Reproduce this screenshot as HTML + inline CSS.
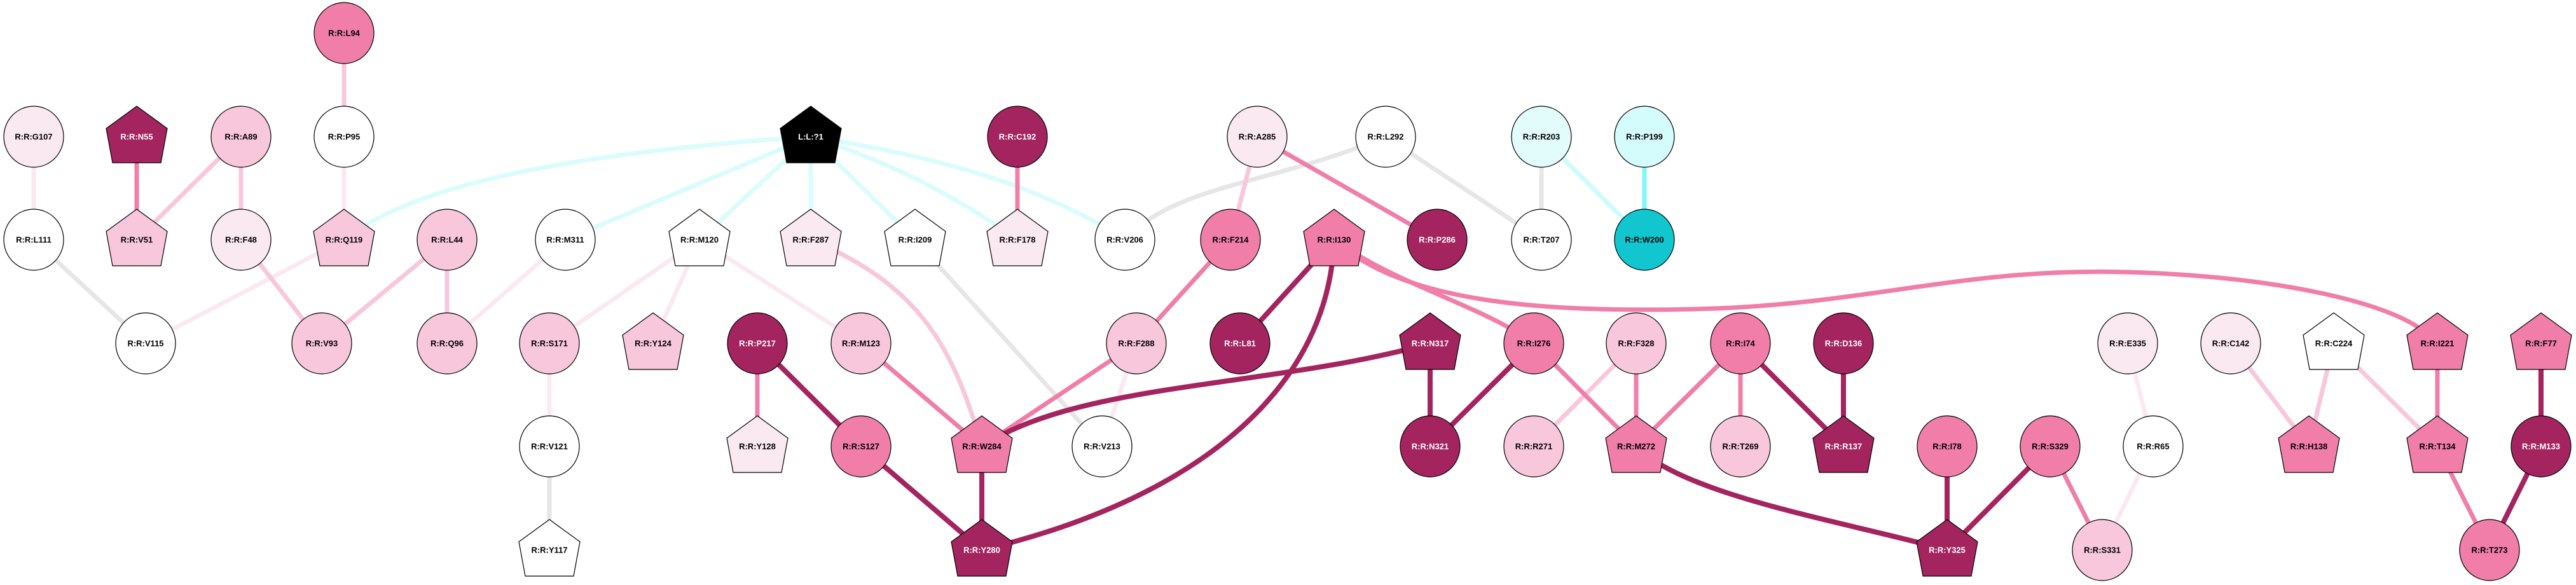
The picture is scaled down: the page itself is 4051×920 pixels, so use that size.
<!DOCTYPE html>
<html><head><meta charset="utf-8"><style>
html,body{margin:0;padding:0;background:#fff;}
svg{display:block}
text{font-family:"Liberation Sans",sans-serif;font-weight:bold;font-size:13px;text-anchor:middle;dominant-baseline:central}
</style></head><body>
<svg width="4051" height="920" viewBox="0 0 4051 920" xmlns="http://www.w3.org/2000/svg">
<g fill="none" stroke-width="7">
<!-- cyan ligand edges -->
<g stroke="#dafcfc">
<path d="M1275,215 C900,240 650,290 541,377"/>
<line x1="1275" y1="215" x2="889" y2="377"/>
<line x1="1275" y1="215" x2="1100" y2="377"/>
<line x1="1275" y1="215" x2="1275" y2="377"/>
<line x1="1275" y1="215" x2="1439" y2="377"/>
<path d="M1275,215 Q1450,270 1600,377"/>
<path d="M1275,215 C1500,250 1650,300 1769,377"/>
</g>
<g stroke="#e6e6e6">
<line x1="53" y1="377" x2="229" y2="540"/>
<line x1="864" y1="702" x2="864" y2="865"/>
<line x1="1439" y1="377" x2="1733" y2="702"/>
<path d="M2179,215 C2000,290 1850,290 1769,377"/>
<line x1="2179" y1="215" x2="2424" y2="377"/>
<line x1="2424" y1="215" x2="2424" y2="377"/>
</g>
<line x1="2424" y1="215" x2="2586" y2="377" stroke="#ccfcfc"/>
<line x1="2586" y1="215" x2="2586" y2="377" stroke="#80f8f8"/>
<g stroke="#fbe9f1">
<line x1="541" y1="215" x2="541" y2="377"/>
<line x1="53" y1="215" x2="53" y2="377"/>
<line x1="541" y1="377" x2="229" y2="540"/>
<line x1="889" y1="377" x2="703" y2="540"/>
<line x1="1100" y1="377" x2="864" y2="540"/>
<line x1="1100" y1="377" x2="1027" y2="540"/>
<line x1="1100" y1="377" x2="1354" y2="540"/>
<line x1="864" y1="540" x2="864" y2="702"/>
<line x1="1787" y1="540" x2="1733" y2="702"/>
<line x1="3346" y1="540" x2="3386" y2="702"/>
<line x1="3386" y1="702" x2="3306" y2="865"/>
</g>
<g stroke="#f8c7dc">
<line x1="541" y1="52" x2="541" y2="215"/>
<line x1="379" y1="215" x2="215" y2="377"/>
<line x1="379" y1="215" x2="379" y2="377"/>
<line x1="379" y1="377" x2="506" y2="540"/>
<line x1="703" y1="377" x2="506" y2="540"/>
<line x1="703" y1="377" x2="703" y2="540"/>
<path d="M1275,377 C1450,450 1500,550 1544,702"/>
<line x1="1977" y1="215" x2="1935" y2="377"/>
<line x1="2573" y1="540" x2="2412" y2="702"/>
<line x1="3508" y1="540" x2="3631" y2="702"/>
<line x1="3670" y1="540" x2="3631" y2="702"/>
<line x1="3670" y1="540" x2="3833" y2="702"/>
</g>
<g stroke="#f07ea9">
<line x1="215" y1="215" x2="215" y2="377"/>
<line x1="1191" y1="540" x2="1191" y2="702"/>
<line x1="1354" y1="540" x2="1544" y2="702"/>
<line x1="1787" y1="540" x2="1544" y2="702"/>
<line x1="1935" y1="377" x2="1787" y2="540"/>
<line x1="1977" y1="215" x2="2260" y2="377"/>
<line x1="1600" y1="215" x2="1600" y2="377"/>
<path d="M2098,377 C2200,450 2330,480 2412,540"/>
<path d="M2098,377 C2200,470 2400,495 2700,485 C2950,475 3100,420 3350,428 C3600,436 3760,480 3810,520"/>
<line x1="2412" y1="540" x2="2573" y2="702"/>
<line x1="2573" y1="540" x2="2573" y2="702"/>
<line x1="2737" y1="540" x2="2573" y2="702"/>
<line x1="2737" y1="540" x2="2737" y2="702"/>
<line x1="3224" y1="702" x2="3306" y2="865"/>
<line x1="3833" y1="540" x2="3833" y2="702"/>
<line x1="3833" y1="702" x2="3915" y2="865"/>
</g>
<g stroke="#a3245f" stroke-width="8">
<line x1="1191" y1="540" x2="1354" y2="702"/>
<line x1="1354" y1="702" x2="1544" y2="865"/>
<line x1="1544" y1="702" x2="1544" y2="865"/>
<line x1="2098" y1="377" x2="1950" y2="540"/>
<path d="M2098,377 C2090,600 1900,780 1544,865"/>
<path d="M2249,540 C2000,610 1700,600 1544,702"/>
<line x1="2249" y1="540" x2="2249" y2="702"/>
<line x1="2412" y1="540" x2="2249" y2="702"/>
<path d="M2573,702 C2650,780 2900,820 3062,865"/>
<line x1="2737" y1="540" x2="2899" y2="702"/>
<line x1="2899" y1="540" x2="2899" y2="702"/>
<line x1="3062" y1="702" x2="3062" y2="865"/>
<line x1="3224" y1="702" x2="3062" y2="865"/>
<line x1="3996" y1="540" x2="3996" y2="702"/>
<line x1="3996" y1="702" x2="3915" y2="865"/>
</g>
</g>

<defs>
<polygon id="pg" points="0,-48 48,-13 38,41 -38,41 -48,-13"/>
</defs>
<g stroke="#000" stroke-width="1.2">
<!-- circles -->
<g>
<ellipse cx="541" cy="52" rx="47" ry="48" fill="#f07ea9"/>
<ellipse cx="53" cy="215" rx="47" ry="48" fill="#fbe9f1"/>
<ellipse cx="379" cy="215" rx="47" ry="48" fill="#f8c7dc"/>
<ellipse cx="541" cy="215" rx="47" ry="48" fill="#fff"/>
<ellipse cx="53" cy="377" rx="47" ry="48" fill="#fff"/>
<ellipse cx="379" cy="377" rx="47" ry="48" fill="#fbe9f1"/>
<ellipse cx="703" cy="377" rx="47" ry="48" fill="#f8c7dc"/>
<ellipse cx="889" cy="377" rx="47" ry="48" fill="#fff"/>
<ellipse cx="229" cy="540" rx="47" ry="48" fill="#fff"/>
<ellipse cx="506" cy="540" rx="47" ry="48" fill="#f8c7dc"/>
<ellipse cx="703" cy="540" rx="47" ry="48" fill="#f8c7dc"/>
<ellipse cx="864" cy="540" rx="47" ry="48" fill="#f8c7dc"/>
<ellipse cx="1191" cy="540" rx="47" ry="48" fill="#a3245f"/>
<ellipse cx="1354" cy="540" rx="47" ry="48" fill="#f8c7dc"/>
<ellipse cx="864" cy="702" rx="47" ry="48" fill="#fff"/>
<ellipse cx="1354" cy="702" rx="47" ry="48" fill="#f07ea9"/>
<ellipse cx="1600" cy="215" rx="47" ry="48" fill="#a3245f"/>
<ellipse cx="1977" cy="215" rx="47" ry="48" fill="#fbe9f1"/>
<ellipse cx="2179" cy="215" rx="47" ry="48" fill="#fff"/>
<ellipse cx="2424" cy="215" rx="47" ry="48" fill="#e2fcfc"/>
<ellipse cx="2586" cy="215" rx="47" ry="48" fill="#d4fcfc"/>
<ellipse cx="1769" cy="377" rx="47" ry="48" fill="#fff"/>
<ellipse cx="1935" cy="377" rx="47" ry="48" fill="#f07ea9"/>
<ellipse cx="2260" cy="377" rx="47" ry="48" fill="#a3245f"/>
<ellipse cx="2424" cy="377" rx="47" ry="48" fill="#fff"/>
<ellipse cx="2586" cy="377" rx="47" ry="48" fill="#12c6d0"/>
<ellipse cx="1787" cy="540" rx="47" ry="48" fill="#f8c7dc"/>
<ellipse cx="1950" cy="540" rx="47" ry="48" fill="#a3245f"/>
<ellipse cx="2412" cy="540" rx="47" ry="48" fill="#f07ea9"/>
<ellipse cx="2573" cy="540" rx="47" ry="48" fill="#f8c7dc"/>
<ellipse cx="1733" cy="702" rx="47" ry="48" fill="#fff"/>
<ellipse cx="2249" cy="702" rx="47" ry="48" fill="#a3245f"/>
<ellipse cx="2412" cy="702" rx="47" ry="48" fill="#f8c7dc"/>
<ellipse cx="2737" cy="540" rx="47" ry="48" fill="#f07ea9"/>
<ellipse cx="2899" cy="540" rx="47" ry="48" fill="#a3245f"/>
<ellipse cx="2737" cy="702" rx="47" ry="48" fill="#f8c7dc"/>
<ellipse cx="3062" cy="702" rx="47" ry="48" fill="#f07ea9"/>
<ellipse cx="3224" cy="702" rx="47" ry="48" fill="#f07ea9"/>
<ellipse cx="3306" cy="865" rx="47" ry="48" fill="#f8c7dc"/>
<ellipse cx="3346" cy="540" rx="47" ry="48" fill="#fbe9f1"/>
<ellipse cx="3386" cy="702" rx="47" ry="48" fill="#fff"/>
<ellipse cx="3508" cy="540" rx="47" ry="48" fill="#fbe9f1"/>
<ellipse cx="3996" cy="702" rx="47" ry="48" fill="#a3245f"/>
<ellipse cx="3915" cy="865" rx="47" ry="48" fill="#f07ea9"/>
</g>
<!-- pentagons -->
<use href="#pg" x="215" y="215" fill="#a3245f"/>
<use href="#pg" x="1275" y="215" fill="#000"/>
<use href="#pg" x="215" y="377" fill="#f8c7dc"/>
<use href="#pg" x="541" y="377" fill="#f8c7dc"/>
<use href="#pg" x="1100" y="377" fill="#fff"/>
<use href="#pg" x="1275" y="377" fill="#fbe9f1"/>
<use href="#pg" x="1027" y="540" fill="#f8c7dc"/>
<use href="#pg" x="1191" y="702" fill="#fbe9f1"/>
<use href="#pg" x="864" y="865" fill="#fff"/>
<use href="#pg" x="1439" y="377" fill="#fff"/>
<use href="#pg" x="1600" y="377" fill="#fbe9f1"/>
<use href="#pg" x="2098" y="377" fill="#f07ea9"/>
<use href="#pg" x="2249" y="540" fill="#a3245f"/>
<use href="#pg" x="1544" y="702" fill="#f07ea9"/>
<use href="#pg" x="1544" y="865" fill="#a3245f"/>
<use href="#pg" x="2573" y="702" fill="#f07ea9"/>
<use href="#pg" x="2899" y="702" fill="#a3245f"/>
<use href="#pg" x="3062" y="865" fill="#a3245f"/>
<use href="#pg" x="3670" y="540" fill="#fff"/>
<use href="#pg" x="3833" y="540" fill="#f07ea9"/>
<use href="#pg" x="3996" y="540" fill="#f07ea9"/>
<use href="#pg" x="3631" y="702" fill="#f07ea9"/>
<use href="#pg" x="3833" y="702" fill="#f07ea9"/>
</g>
<g fill="#000">
<text x="541" y="52">R:R:L94</text>
<text x="53" y="215">R:R:G107</text>
<text x="379" y="215">R:R:A89</text>
<text x="541" y="215">R:R:P95</text>
<text x="53" y="377">R:R:L111</text>
<text x="379" y="377">R:R:F48</text>
<text x="703" y="377">R:R:L44</text>
<text x="889" y="377">R:R:M311</text>
<text x="229" y="540">R:R:V115</text>
<text x="506" y="540">R:R:V93</text>
<text x="703" y="540">R:R:Q96</text>
<text x="864" y="540">R:R:S171</text>
<text x="1354" y="540">R:R:M123</text>
<text x="864" y="702">R:R:V121</text>
<text x="1354" y="702">R:R:S127</text>
<text x="1977" y="215">R:R:A285</text>
<text x="2179" y="215">R:R:L292</text>
<text x="2424" y="215">R:R:R203</text>
<text x="2586" y="215">R:R:P199</text>
<text x="1769" y="377">R:R:V206</text>
<text x="1935" y="377">R:R:F214</text>
<text x="2424" y="377">R:R:T207</text>
<text x="2586" y="377">R:R:W200</text>
<text x="1787" y="540">R:R:F288</text>
<text x="2412" y="540">R:R:I276</text>
<text x="2573" y="540">R:R:F328</text>
<text x="1733" y="702">R:R:V213</text>
<text x="2412" y="702">R:R:R271</text>
<text x="2737" y="540">R:R:I74</text>
<text x="2737" y="702">R:R:T269</text>
<text x="3062" y="702">R:R:I78</text>
<text x="3224" y="702">R:R:S329</text>
<text x="3306" y="865">R:R:S331</text>
<text x="3346" y="540">R:R:E335</text>
<text x="3386" y="702">R:R:R65</text>
<text x="3508" y="540">R:R:C142</text>
<text x="3915" y="865">R:R:T273</text>
<text x="215" y="377">R:R:V51</text>
<text x="541" y="377">R:R:Q119</text>
<text x="1100" y="377">R:R:M120</text>
<text x="1275" y="377">R:R:F287</text>
<text x="1027" y="540">R:R:Y124</text>
<text x="1191" y="702">R:R:Y128</text>
<text x="864" y="865">R:R:Y117</text>
<text x="1439" y="377">R:R:I209</text>
<text x="1600" y="377">R:R:F178</text>
<text x="2098" y="377">R:R:I130</text>
<text x="1544" y="702">R:R:W284</text>
<text x="2573" y="702">R:R:M272</text>
<text x="3670" y="540">R:R:C224</text>
<text x="3833" y="540">R:R:I221</text>
<text x="3996" y="540">R:R:F77</text>
<text x="3631" y="702">R:R:H138</text>
<text x="3833" y="702">R:R:T134</text>
</g>
<g fill="#fff">
<text x="215" y="215">R:R:N55</text>
<text x="1275" y="215">L:L:?1</text>
<text x="1191" y="540">R:R:P217</text>
<text x="1600" y="215">R:R:C192</text>
<text x="2260" y="377">R:R:P286</text>
<text x="1950" y="540">R:R:L81</text>
<text x="2249" y="540">R:R:N317</text>
<text x="2249" y="702">R:R:N321</text>
<text x="1544" y="865">R:R:Y280</text>
<text x="2899" y="540">R:R:D136</text>
<text x="2899" y="702">R:R:R137</text>
<text x="3062" y="865">R:R:Y325</text>
<text x="3996" y="702">R:R:M133</text>
</g>
</svg>
</body></html>
